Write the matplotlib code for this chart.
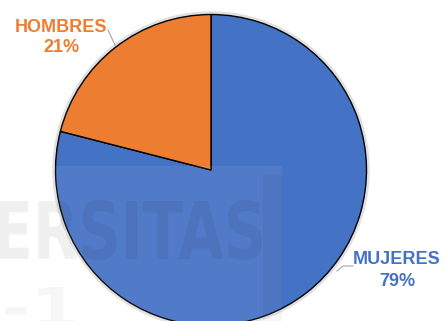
import matplotlib.pyplot as plt
from matplotlib.patches import Rectangle, PathPatch, Circle
from matplotlib.textpath import TextPath
from matplotlib.font_manager import FontProperties
from matplotlib.transforms import Affine2D

categorias = ['MUJERES', 'HOMBRES']
porcentajes = [79, 21]
colores = ['#4472C4', '#ED7D31']

W, H = 446, 321
fig = plt.figure(figsize=(W / 100, H / 100), dpi=100)
ax = fig.add_axes([0, 0, 1, 1])

cx, cy, radio = 211, H - 170, 155.5

# sombra suave alrededor del círculo
ax.add_patch(Circle((cx, cy), radio + 1.5, facecolor='none', edgecolor='#999999',
                    linewidth=2.5, alpha=0.3, zorder=1))

ax.pie(porcentajes, colors=colores, startangle=90, counterclock=False,
       center=(cx, cy), radius=radio, frame=True,
       wedgeprops=dict(edgecolor='black', linewidth=1.0, zorder=2))

# etiquetas con líneas guía
ax.plot([108, 115], [H - 30, H - 45], color='#a6a6a6', linewidth=0.8, zorder=3)
ax.plot([353, 343, 337], [H - 266, H - 266, H - 271], color='#a6a6a6', linewidth=0.8, zorder=3)

fuente = 'Liberation Sans'
ax.text(61, H - 27, categorias[1], color=colores[1], fontsize=13, fontweight='bold',
        family=fuente, ha='center', va='center', zorder=4)
ax.text(61, H - 48, f'{porcentajes[1]}%', color=colores[1], fontsize=13, fontweight='bold',
        family=fuente, ha='center', va='center', zorder=4)
ax.text(397, H - 260, categorias[0], color=colores[0], fontsize=13, fontweight='bold',
        family=fuente, ha='center', va='center', zorder=4)
ax.text(397, H - 281, f'{porcentajes[0]}%', color=colores[0], fontsize=13, fontweight='bold',
        family=fuente, ha='center', va='center', zorder=4)

# marca de agua
ax.add_patch(Rectangle((0, 0), 282, H - 166, facecolor='white', alpha=0.07,
                       edgecolor='none', zorder=5))
ax.add_patch(Rectangle((263, 0), 19, H - 175, facecolor='black', alpha=0.035,
                       edgecolor='none', zorder=5))

prop = FontProperties(family='DejaVu Sans', weight='bold')
tp = TextPath((0, 0), 'ERSITAS', prop=prop, size=10)
bb = tp.get_extents()
sx = 264 / bb.width
sy = 60 / bb.height
tr = Affine2D().translate(-bb.x0, -bb.y0).scale(sx, sy).translate(-2, H - 260)
ax.add_patch(PathPatch(tr.transform_path(tp), facecolor='black', edgecolor='none',
                       alpha=0.058, zorder=6))

tp2 = TextPath((0, 0), '-1', prop=prop, size=10)
bb2 = tp2.get_extents()
tr2 = Affine2D().translate(-bb2.x0, -bb2.y0).scale(70 / bb2.width, 40 / bb2.height).translate(5, -6)
ax.add_patch(PathPatch(tr2.transform_path(tp2), facecolor='black', edgecolor='none',
                       alpha=0.035, zorder=6))

ax.set_xlim(0, W)
ax.set_ylim(0, H)
ax.set_aspect('auto')
ax.axis('off')

fig.savefig('out.png', dpi=100)
